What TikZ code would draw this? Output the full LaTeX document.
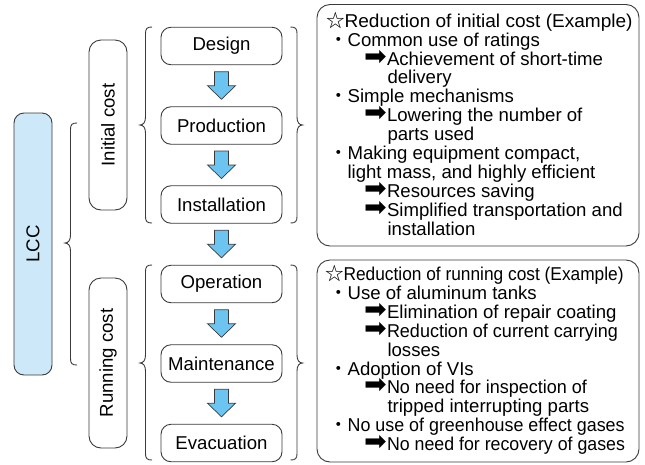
\documentclass[tikz,border=0pt]{standalone}
\usepackage{fontspec}
\setmainfont{Liberation Sans}
\newfontfamily\cjkfont{Noto Sans CJK JP}
\newfontfamily\symfont{DejaVu Sans}
\usetikzlibrary{calc}
\definecolor{linec}{HTML}{3A3A3A}
\definecolor{lccfill}{HTML}{CDE8F8}
\definecolor{arrfill}{HTML}{6CC5F0}
\newcommand\myarr{\makebox[23pt][l]{\scalebox{1.35}{\symfont\fontsize{20pt}{20pt}\selectfont ➡}}}
\newcommand\mystar{{\cjkfont ☆}}
\newcommand\mydot{{\cjkfont ・}}
\newcommand\fitto[2]{\resizebox{#1}{\height}{#2}}
\begin{document}
\begin{tikzpicture}[x=1pt,y=-1pt,
  every node/.style={font=\fontsize{18.6pt}{18.6pt}\selectfont, text=black},
  rbox/.style={draw=linec, line width=0.9pt, rounded corners=10pt},
  stepbox/.style={rbox, minimum width=121pt, minimum height=37.5pt, inner sep=0pt},
  brc/.style={draw=linec, line width=0.9pt},
  blockarr/.style={draw=linec, line width=0.7pt, fill=arrfill},
  txt/.style={anchor=base west, inner sep=0pt, outer sep=0pt}]
\useasboundingbox (0,0) rectangle (645,464);

% LCC
\node[rbox, fill=lccfill, minimum width=38pt, minimum height=262pt, inner sep=0pt] (lcc) at (33,244) {};
\node[rotate=90, inner sep=0pt] (lcct) at (lcc.center) {LCC};

% cost boxes
\node[rbox, rounded corners=12pt, minimum width=38pt, minimum height=170pt, inner sep=0pt] (init) at (108,125) {};
\node[rotate=90, inner sep=0pt] (initt) at (init.center) {Initial cost};
\node[rbox, rounded corners=12pt, minimum width=38pt, minimum height=170pt, inner sep=0pt] (run) at (108,363) {};
\node[rotate=90, inner sep=0pt] (runt) at (run.center) {Running cost};

% step boxes
\node[stepbox] (design) at (221.5,46) {Design};
\node[stepbox] (prod) at (221.5,125.5) {Production};
\node[stepbox] (inst) at (221.5,204.5) {Installation};
\node[stepbox] (oper) at (221.5,284) {Operation};
\node[stepbox] (maint) at (221.5,363.5) {Maintenance};
\node[stepbox] (evac) at (221.5,443) {Evacuation};

% block arrows
\newcommand\mybarrow[2]{%
  \coordinate (m) at ($(#1.south)!0.5!(#2.north)$);
  \draw[blockarr] ($(m)+(-7,-14)$) -- ++(14,0) -- ++(0,14) -- ++(7,0) -- ++(-14,13.5) -- ++(-14,-13.5) -- ++(7,0) -- cycle;}
\mybarrow{design}{prod}
\mybarrow{prod}{inst}
\mybarrow{inst}{oper}
\mybarrow{oper}{maint}
\mybarrow{maint}{evac}

% braces
\newcommand\myleftbrace[4]{% x, top, bottom, tip
  \draw[brc] ({#1+6.5},#2) .. controls ({#1+1.5},#2) and (#1,{#2+1.5}) .. (#1,{#2+6.5})
    -- (#1,{#4-8}) .. controls (#1,{#4-3}) and ({#1-2},#4) .. ({#1-5.5},#4)
    .. controls ({#1-2},#4) and (#1,{#4+3}) .. (#1,{#4+8})
    -- (#1,{#3-6.5}) .. controls (#1,{#3-1.5}) and ({#1+1.5},#3) .. ({#1+6.5},#3);}
\newcommand\myrightbrace[4]{%
  \draw[brc] ({#1-6.5},#2) .. controls ({#1-1.5},#2) and (#1,{#2+1.5}) .. (#1,{#2+6.5})
    -- (#1,{#4-8}) .. controls (#1,{#4-3}) and ({#1+2},#4) .. ({#1+5.5},#4)
    .. controls ({#1+2},#4) and (#1,{#4+3}) .. (#1,{#4+8})
    -- (#1,{#3-6.5}) .. controls (#1,{#3-1.5}) and ({#1-1.5},#3) .. ({#1-6.5},#3);}
\myleftbrace{70.5}{123}{365}{243}
\myleftbrace{145.5}{27}{223}{125}
\myrightbrace{297}{27}{223}{125}
\myleftbrace{145.5}{265}{460}{363}
\myrightbrace{297}{265}{460}{363}

% right boxes
\draw[rbox, rounded corners=13pt] (317,4.5) rectangle (639,246);
\draw[rbox, rounded corners=13pt] (317,260) rectangle (639,462);

% top text
\node[txt] (t1) at (326,27.2) {\mystar\fitto{288pt}{Reduction of initial cost (Example)}};
\node[txt] (t2) at (329,46.1) {\mydot Common use of ratings};
\node[txt] (t3) at (364,65) {\myarr Achievement of short-time};
\node[txt] (t4) at (387.5,83.9) {delivery};
\node[txt] (t5) at (329,102.8) {\mydot Simple mechanisms};
\node[txt] (t6) at (364,121.7) {\myarr Lowering the number of};
\node[txt] (t7) at (387.5,140.6) {parts used};
\node[txt] (t8) at (329,159.5) {\mydot Making equipment compact,};
\node[txt] (t9) at (347.5,178.4) {light mass, and highly efficient};
\node[txt] (t10) at (364,197.3) {\myarr Resources saving};
\node[txt] (t11) at (364,216.2) {\myarr Simplified transportation and};
\node[txt] (t12) at (387.5,235.1) {installation};

% bottom text
\node[txt] (u1) at (325,280.5) {\mystar\fitto{280pt}{Reduction of running cost (Example)}};
\node[txt] (u2) at (329,299.4) {\mydot Use of aluminum tanks};
\node[txt] (u3) at (364,318.3) {\myarr Elimination of repair coating};
\node[txt] (u4) at (364,337.2) {\myarr\fitto{231pt}{Reduction of current carrying}};
\node[txt] (u5) at (387.5,356.1) {losses};
\node[txt] (u6) at (329,375) {\mydot Adoption of VIs};
\node[txt] (u7) at (364,393.9) {\myarr\fitto{200pt}{No need for inspection of}};
\node[txt] (u8) at (387.5,412.8) {tripped interrupting parts};
\node[txt] (u9) at (329,431.7) {\mydot\fitto{277pt}{No use of greenhouse effect gases}};
\node[txt] (u10) at (364,450.6) {\myarr\fitto{238pt}{No need for recovery of gases}};
\end{tikzpicture}
\end{document}
